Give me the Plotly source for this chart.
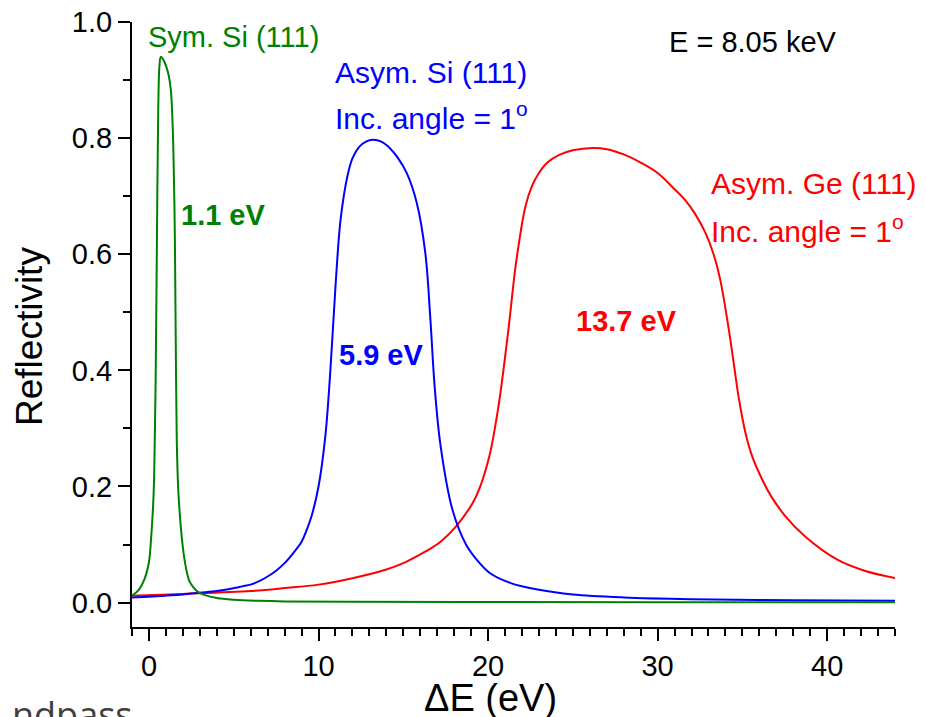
import plotly.graph_objects as go

# ---- data ----
sym_si_x = [-1.0, -0.6, -0.27, 0.0, 0.12, 0.25, 0.31, 0.4, 0.47, 0.55, 0.62, 0.7, 0.85, 1.0, 1.15,
            1.29, 1.4, 1.48, 1.53, 1.58, 1.64, 1.72, 1.8, 1.88, 2.0, 2.15, 2.37, 2.6, 2.86, 3.3, 4.0,
            5.0, 6.5, 8, 12, 20, 30, 44]
sym_si_y = [0.012, 0.022, 0.04, 0.07, 0.108, 0.17, 0.22, 0.4, 0.625, 0.854, 0.925, 0.94, 0.935, 0.925, 0.91,
            0.883, 0.82, 0.72, 0.625, 0.45, 0.28, 0.2, 0.16, 0.13, 0.095, 0.065, 0.038, 0.027, 0.019, 0.013,
            0.008, 0.005, 0.003, 0.002, 0.0015, 0.001, 0.0008, 0.0005]

asym_si_x = [-1, 1, 2, 3, 4, 5, 5.5, 6, 6.5, 7, 7.5, 8, 8.5, 9, 9.3, 9.6, 10.0, 10.4, 10.7, 11.0, 11.3, 11.7,
             12.0, 12.4, 12.8, 13.2, 13.7, 14.2, 14.7, 15.2, 15.8, 16.3, 16.6, 16.85, 17.2, 17.9, 18.7, 19.3,
             20.1, 21.3, 23, 25, 28, 32, 38, 44]
asym_si_y = [0.009, 0.012, 0.014, 0.017, 0.02, 0.025, 0.028, 0.031, 0.037, 0.045, 0.055, 0.068, 0.085,
             0.105, 0.125, 0.15, 0.2, 0.286, 0.40, 0.544, 0.659, 0.734, 0.765, 0.785, 0.794, 0.797, 0.794,
             0.783, 0.765, 0.74, 0.688, 0.602, 0.487, 0.372, 0.27, 0.16, 0.1, 0.075, 0.051, 0.034, 0.022,
             0.014, 0.009, 0.006, 0.004, 0.003]

asym_ge_x = [-1, 2, 6, 8, 10, 12, 14, 15, 16, 16.6, 17.2, 18.1, 19.1, 19.6, 20.1, 20.4, 20.7, 21.2, 21.65,
             22.2, 22.6, 23.0, 23.5, 24.2, 25.0, 26.15, 27.0, 28.0, 29.0, 30.0, 31.0, 31.6, 32.2, 32.8, 33.3,
             33.7, 34.2, 34.5, 34.8, 35.2, 35.6, 36.2, 36.7, 37.5, 38.7, 40.6, 42.2, 44]
asym_ge_y = [0.012, 0.015, 0.02, 0.025, 0.031, 0.042, 0.057, 0.068, 0.083, 0.093, 0.105, 0.131, 0.172,
             0.205, 0.255, 0.3, 0.355, 0.47, 0.585, 0.682, 0.718, 0.74, 0.758, 0.771, 0.779, 0.783, 0.781,
             0.772, 0.758, 0.74, 0.712, 0.694, 0.67, 0.638, 0.6, 0.555, 0.47, 0.41, 0.35, 0.29, 0.25, 0.21,
             0.183, 0.15, 0.114, 0.074, 0.055, 0.0425]

x_tickvals = [0, 10, 20, 30, 40]
y_tickvals = [0.0, 0.2, 0.4, 0.6, 0.8, 1.0]

GREEN = "#008000"
BLUE = "#0000FF"
RED = "#FF0000"
FONT = "Liberation Sans, Arial, sans-serif"

fig = go.Figure()
for xs, ys, c, name in [(asym_ge_x, asym_ge_y, RED, "Asym. Ge (111)"),
                        (asym_si_x, asym_si_y, BLUE, "Asym. Si (111)"),
                        (sym_si_x, sym_si_y, GREEN, "Sym. Si (111)")]:
    fig.add_trace(go.Scatter(x=xs, y=ys, mode="lines", name=name,
                             line=dict(color=c, width=2, shape="spline", smoothing=1.0)))

# The page body adds an 8 px offset; the figure is sized so that it fills the 926x717 window.
OFF = 8
L, R, T, B = 132, 895, 22, 627   # plot area in window pixels

def dx(px):
    return -1 + (px - L) * 45.0 / (R - L)

def dy(py):
    return 1.0 - (py - T) * 1.042 / (B - T)

ann = []
def add(text, px, py, color, size, bold=False, xanchor="left", family=FONT):
    if bold:
        text = "<b>" + text + "</b>"
    ann.append(dict(text=text, x=dx(px), y=dy(py), xref="x", yref="y", showarrow=False,
                    xanchor=xanchor, yanchor="middle", font=dict(color=color, size=size, family=family)))

add("Sym. Si (111)", 146, 37, GREEN, 29)
add("Asym. Si (111)", 333, 72, BLUE, 30)
add("Inc. angle = 1<sup>o</sup>", 333, 116, BLUE, 30)
add("Asym. Ge (111)", 709, 183, RED, 30)
add("Inc. angle = 1<sup>o</sup>", 709, 229, RED, 30)
add("E = 8.05 keV", 667, 42, "black", 29)
add("1.1 eV", 179, 215, GREEN, 29, bold=True)
add("5.9 eV", 337, 355, BLUE, 29, bold=True)
add("13.7 eV", 574, 321, RED, 29, bold=True)

fig.update_layout(annotations=ann)
W, H = R - L, B - T
fig.add_annotation(text="Reflectivity", xref="paper", yref="paper", x=-(L - 29) / W,
                   y=(B - 337) / H, textangle=-90, showarrow=False, xanchor="center",
                   yanchor="middle", font=dict(size=37, color="black", family=FONT))
fig.add_annotation(text="ΔE (eV)", xref="paper", yref="paper", x=(490 - L) / W,
                   y=-(698 - B) / H, showarrow=False, xanchor="center", yanchor="middle",
                   font=dict(size=38, color="black", family=FONT))
fig.add_annotation(text="ndpass", xref="paper", yref="paper", x=-(L - 10) / W,
                   y=-(688 - B) / H, showarrow=False, xanchor="left", yanchor="top",
                   font=dict(size=36, color="#404040", family="Open Sans, sans-serif"))

fig.update_layout(
    width=926 - OFF, height=717 - OFF,
    margin=dict(l=L - OFF, r=926 - R, t=T - OFF, b=717 - B, autoexpand=False),
    paper_bgcolor="white", plot_bgcolor="white",
    showlegend=False,
    font=dict(family=FONT, color="black"),
    xaxis=dict(range=[-1, 44], tickvals=x_tickvals, showgrid=False, zeroline=False, automargin=False,
               showline=True, linecolor="black", linewidth=2, ticks="outside", ticklen=12,
               tickwidth=2, tickcolor="black", tickfont=dict(size=29, family=FONT),
               ticklabeloverflow="allow",
               minor=dict(dtick=1, tick0=0, ticks="outside", ticklen=7, tickwidth=2, tickcolor="black")),
    yaxis=dict(range=[-0.042, 1.0], tickvals=y_tickvals, tickformat=".1f", showgrid=False,
               zeroline=False, showline=True, linecolor="black", linewidth=2, ticks="outside",
               ticklen=12, tickwidth=2, tickcolor="black", tickfont=dict(size=29, family=FONT),
               automargin=False, ticklabeloverflow="allow",
               minor=dict(dtick=0.1, tick0=0, ticks="outside", ticklen=7, tickwidth=2, tickcolor="black")),
)

fig.write_html("out.html")
